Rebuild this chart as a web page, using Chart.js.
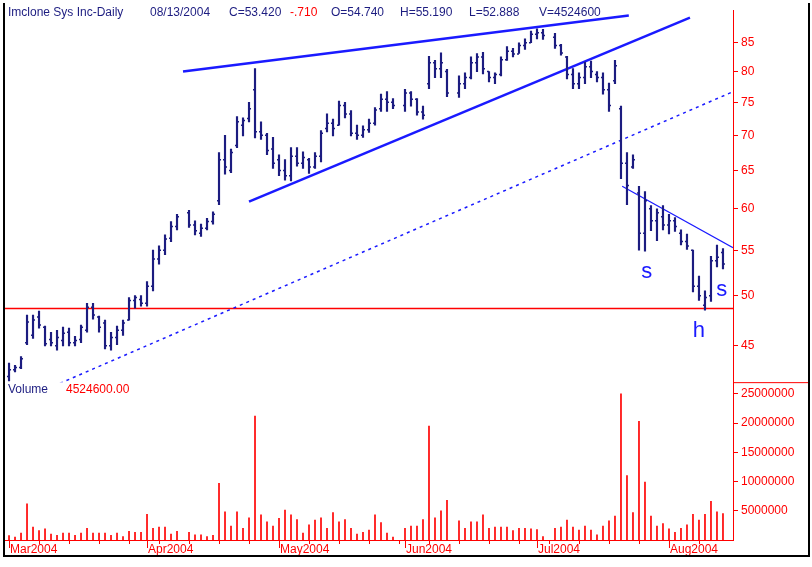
<!DOCTYPE html>
<html><head><meta charset="utf-8">
<script src="https://cdn.jsdelivr.net/npm/chart.js@4.4.1/dist/chart.umd.min.js"></script>
<style>
html,body{margin:0;padding:0;background:#fff;}
#wrap{position:relative;width:812px;height:567px;}
#frame{position:absolute;left:3px;top:3px;width:803px;height:552px;border:2px solid #000;border-top:none;pointer-events:none;}
canvas{position:absolute;left:0;top:0;}
</style></head><body>
<div id="wrap"><canvas id="c" width="812" height="567"></canvas><div id="frame"></div></div>
<script>
// weekday index 0 = 2004-03-01 ... 119 = 2004-08-13 (holidays null)
const monthLabels = ["Mar2004","Apr2004","May2004","Jun2004","Jul2004","Aug2004"];
const monthIdx = [0,23,45,66,88,110];
const highs = [43.4,43.2,44.0,48.0,48.0,48.4,46.9,46.3,46.5,46.8,46.7,45.9,47.0,49.2,49.2,47.9,47.5,46.3,46.9,47.5,49.8,50.0,50.0,51.5,55.0,55.5,56.8,58.4,59.3,null,
59.8,58.5,58.1,58.8,59.6,67.5,70.0,68.0,72.8,72.6,75.0,80.5,72.0,70.3,69.7,67.2,66.5,68.2,68.2,67.6,
66.7,67.5,70.7,73.2,72.4,75.2,75.0,73.7,71.5,71.4,72.4,74.2,76.3,76.7,75.6,null,77.1,76.7,75.6,74.4,
82.6,81.9,83.2,80.4,null,79.3,79.8,82.5,83.1,83.3,80.0,79.8,82.5,84.3,84.0,85.0,85.7,87.1,87.5,87.4,
null,86.7,84.7,82.6,80.5,79.8,81.6,81.8,80.0,79.8,78.1,81.9,74.4,67.5,67.2,62.9,62.2,60.4,60.0,60.4,
59.3,58.9,57.4,56.9,55.0,52.1,50.5,54.3,55.6,55.19];
const lows = [41.8,42.6,42.9,45.1,45.7,46.7,45.0,45.0,44.6,45.0,45.0,45.0,45.3,46.3,47.6,46.3,44.7,44.6,45.1,46.0,47.5,48.7,48.9,48.9,50.5,53.4,54.5,56.0,57.4,null,
57.7,56.8,56.6,57.4,58.1,60.5,64.5,64.7,68.2,69.9,72.0,69.6,69.4,67.2,65.3,64.3,63.7,63.6,65.6,65.3,
64.6,65.3,66.2,70.5,69.9,71.5,72.6,69.9,69.4,69.7,70.4,71.5,73.6,73.6,74.0,null,73.6,74.4,73.0,72.4,
77.2,79.0,79.0,75.9,null,75.8,77.2,78.8,80.0,79.6,78.3,78.0,79.3,81.9,82.5,83.1,83.8,85.0,85.7,85.6,
null,84.0,82.8,78.8,77.2,77.2,78.0,79.0,78.3,76.3,73.6,78.0,63.9,60.5,65.3,55.0,54.9,57.3,56.1,57.4,
56.9,57.2,55.6,55.1,50.4,49.5,48.5,49.4,53.1,52.888];
const opens = [42.2,42.8,43.0,45.3,46.0,47.8,46.8,45.6,45.0,45.5,46.3,45.3,45.6,46.5,48.8,47.8,47.2,45.0,45.8,46.5,47.5,49.5,49.6,49.2,51.0,54.0,55.0,56.4,57.8,null,
59.5,58.0,57.0,57.6,58.4,61.0,66.5,65.0,68.5,71.5,72.5,77.0,70.5,70.0,68.0,66.5,65.0,64.3,67.0,66.0,
66.5,65.5,67.0,71.0,71.8,71.5,74.5,73.2,70.3,70.0,70.8,71.8,74.0,75.5,75.0,null,74.5,76.5,75.5,73.5,
78.0,81.5,80.5,80.0,null,76.5,78.0,79.0,81.5,82.5,80.0,79.0,79.5,82.0,83.5,83.0,84.5,85.0,86.5,86.8,
null,86.0,84.5,82.5,79.5,78.0,79.0,80.8,79.5,79.0,77.0,78.5,74.0,66.0,65.5,62.0,57.0,60.0,58.5,59.0,
58.0,58.5,57.0,56.0,55.0,51.0,49.0,50.0,53.8,54.74];
const closes = [42.8,43.0,43.8,47.3,47.5,47.0,45.2,45.3,45.8,46.2,45.3,45.5,46.8,48.8,48.0,46.8,45.0,45.8,46.5,47.2,49.5,49.8,49.2,51.0,54.0,55.0,56.3,57.8,59.0,null,
58.0,57.3,57.6,58.4,59.3,66.5,65.5,67.5,72.0,72.2,74.0,70.5,70.0,67.8,66.0,65.0,64.3,67.0,66.0,66.8,
65.5,67.0,70.3,71.8,71.0,74.5,73.2,70.3,70.0,70.8,71.8,73.8,75.5,75.0,74.5,null,76.5,75.5,73.5,73.0,
81.5,80.5,81.5,76.5,null,78.0,79.0,81.5,82.5,80.5,79.0,79.5,82.0,83.5,83.0,84.5,85.0,86.5,86.8,86.3,
null,84.5,83.2,79.5,78.0,79.0,80.8,80.0,79.0,77.0,74.5,81.0,66.0,63.0,66.5,57.0,61.0,58.5,59.5,58.0,
58.5,57.8,56.0,55.5,51.0,50.0,49.8,53.8,54.2,53.42];
const volumesM = [0.75,0.5,1.2,6.2,2.2,1.6,1.9,1.0,0.8,1.2,1.2,0.8,1.2,2.0,1.2,1.2,1.2,0.8,1.2,0.6,1.5,1.3,1.3,4.4,2.0,2.2,2.2,1.0,1.5,null,
1.3,0.9,0.9,0.6,0.8,9.7,4.8,2.4,4.8,2.0,3.8,21.2,4.3,3.1,2.4,3.7,5.1,4.3,3.5,1.2,
2.6,3.4,3.8,2.0,4.7,3.1,3.5,2.0,1.0,1.3,1.7,4.3,3.0,1.2,0.5,null,2.0,2.4,2.4,3.5,
19.5,3.8,5.0,6.8,null,3.3,2.0,3.1,3.1,4.3,2.0,2.2,2.2,2.2,1.6,2.0,2.0,1.9,1.8,0.6,
null,2.0,2.2,3.4,2.2,1.7,2.4,1.7,0.9,2.4,3.3,4.1,25.0,11.0,4.7,20.3,9.9,4.1,2.4,2.8,
1.9,1.3,2.0,2.6,4.4,3.4,4.4,6.6,4.8,4.5246];
const priceTicks = [45,50,55,60,65,70,75,80,85];
const volTicks = [5000000,10000000,15000000,20000000,25000000];
// trendlines [x index, price]
const topLine = [[29,80.0],[103.3,90.0]];
const wedgeLine = [[40,60.9],[113.5,89.6]];
const dashLine = [[8.5,41.6],[120.67,76.7]];
const neckLine = [[102.2,62.9],[120.67,55.3]];
const supportLevel = 48.67;
const annotations = [["s",106.3,52.6],["s",118.8,50.6],["h",115,46.4]];

const N = highs.length;
const hlData = [], volData = [];
for (let i=0;i<N;i++){
  if (highs[i]!==null) hlData.push({x:i,y:[lows[i],highs[i]]});
  if (volumesM[i]!==null) volData.push({x:i,y:volumesM[i]*1e6});
}
const pts = a => a.map(p=>({x:p[0],y:p[1]}));
const NAVY = '#1c1c80', BLUE='#1a1aff', RED='#ff0000';

const deco = {
  id:'deco',
  afterDatasetsDraw(chart){
    const ctx=chart.ctx, xs=chart.scales.x, ys=chart.scales.y, ca=chart.chartArea;
    ctx.save();
    ctx.strokeStyle=NAVY; ctx.lineWidth=1.5;
    for(let i=0;i<N;i++){ if(highs[i]===null) continue;
      const x=xs.getPixelForValue(i);
      const yo=ys.getPixelForValue(opens[i]), yc=ys.getPixelForValue(closes[i]);
      ctx.beginPath(); ctx.moveTo(x-2,yo); ctx.lineTo(x,yo); ctx.moveTo(x,yc); ctx.lineTo(x+2,yc); ctx.stroke();
    }
    ctx.fillStyle=BLUE; ctx.font='22px "Liberation Sans", Arial, sans-serif'; ctx.textAlign='center'; ctx.textBaseline='middle';
    annotations.forEach(a=>ctx.fillText(a[0],xs.getPixelForValue(a[1]),ys.getPixelForValue(a[2])));
    ctx.textAlign='left'; ctx.textBaseline='middle'; ctx.font='12px "Liberation Sans", Arial, sans-serif';
    const parts=[["Imclone Sys Inc-Daily",NAVY,8],["08/13/2004",NAVY,150],["C=53.420",NAVY,229],["-.710",RED,290],["O=54.740",NAVY,331],["H=55.190",NAVY,400],["L=52.888",NAVY,469],["V=4524600",NAVY,539]];
    parts.forEach(p=>{ctx.fillStyle=p[1]; ctx.fillText(p[0],p[2],13);});
    const yv=chart.scales.yv;
    ctx.fillStyle=NAVY; ctx.fillText("Volume",8,390);
    ctx.fillStyle=RED; ctx.fillText("4524600.00",66,390);
    ctx.strokeStyle=RED; ctx.lineWidth=1;
    ctx.beginPath(); ctx.moveTo(ca.right,yv.top+0.5); ctx.lineTo(808,yv.top+0.5); ctx.stroke();
    ctx.beginPath(); ctx.moveTo(ca.left,ca.bottom+0.5); ctx.lineTo(ca.right,ca.bottom+0.5); ctx.stroke();
    for(let i=0;i<N;i+=5){const x=Math.round(xs.getPixelForValue(i))+0.5; ctx.beginPath(); ctx.moveTo(x,ca.bottom); ctx.lineTo(x,ca.bottom+4); ctx.stroke();}
    ctx.fillStyle=RED; ctx.font='12px "Liberation Sans", Arial, sans-serif'; ctx.textBaseline='middle';
    monthIdx.forEach((m,k)=>{const x=xs.getPixelForValue(m); ctx.beginPath(); ctx.moveTo(x+0.5,ca.bottom); ctx.lineTo(x+0.5,ca.bottom+8); ctx.stroke(); ctx.fillText(monthLabels[k],x+1,550);});
    ctx.restore();
  }
};

new Chart(document.getElementById('c'),{
  data:{datasets:[
    {type:'bar',label:'HL',data:hlData,yAxisID:'y',backgroundColor:NAVY,barThickness:1.5,grouped:false},
    {type:'bar',label:'Volume',data:volData,yAxisID:'yv',backgroundColor:RED,barThickness:1,grouped:false},
    {type:'line',data:pts(topLine),yAxisID:'y',borderColor:BLUE,borderWidth:2.5,pointRadius:0},
    {type:'line',data:pts(wedgeLine),yAxisID:'y',borderColor:BLUE,borderWidth:2.5,pointRadius:0},
    {type:'line',data:pts(neckLine),yAxisID:'y',borderColor:BLUE,borderWidth:1.2,pointRadius:0},
    {type:'line',data:pts(dashLine),yAxisID:'y',borderColor:BLUE,borderWidth:1.5,borderDash:[3,4],pointRadius:0},
    {type:'line',data:[{x:-0.67,y:supportLevel},{x:120.67,y:supportLevel}],yAxisID:'y',borderColor:RED,borderWidth:1.5,pointRadius:0}
  ]},
  options:{
    responsive:false,animation:false,
    layout:{padding:{left:5,top:3,bottom:27,right:0}},
    plugins:{legend:{display:false},tooltip:{enabled:false}},
    scales:{
      x:{type:'linear',min:-0.67,max:120.67,offset:false,display:false,grid:{offset:false}},
      y:{type:'logarithmic',position:'right',stack:'r',stackWeight:377,min:41.7,max:91,
        afterBuildTicks:s=>{s.ticks=priceTicks.map(v=>({value:v}));},
        afterFit:s=>{s.width=79;},
        border:{color:RED,width:1},
        grid:{drawOnChartArea:false,color:RED,tickLength:5},
        ticks:{color:RED,font:{size:12,family:'"Liberation Sans", Arial'},callback:v=>String(v),padding:3}},
      yv:{type:'linear',position:'right',stack:'r',stackWeight:160,min:0,max:27000000,
        afterBuildTicks:s=>{s.ticks=volTicks.map(v=>({value:v}));},
        afterFit:s=>{s.width=79;},
        border:{color:RED,width:1},
        grid:{drawOnChartArea:false,color:RED,tickLength:5},
        ticks:{color:RED,font:{size:12,family:'"Liberation Sans", Arial'},callback:v=>String(v),padding:3}}
    }
  },
  plugins:[deco]
});
</script></body></html>
